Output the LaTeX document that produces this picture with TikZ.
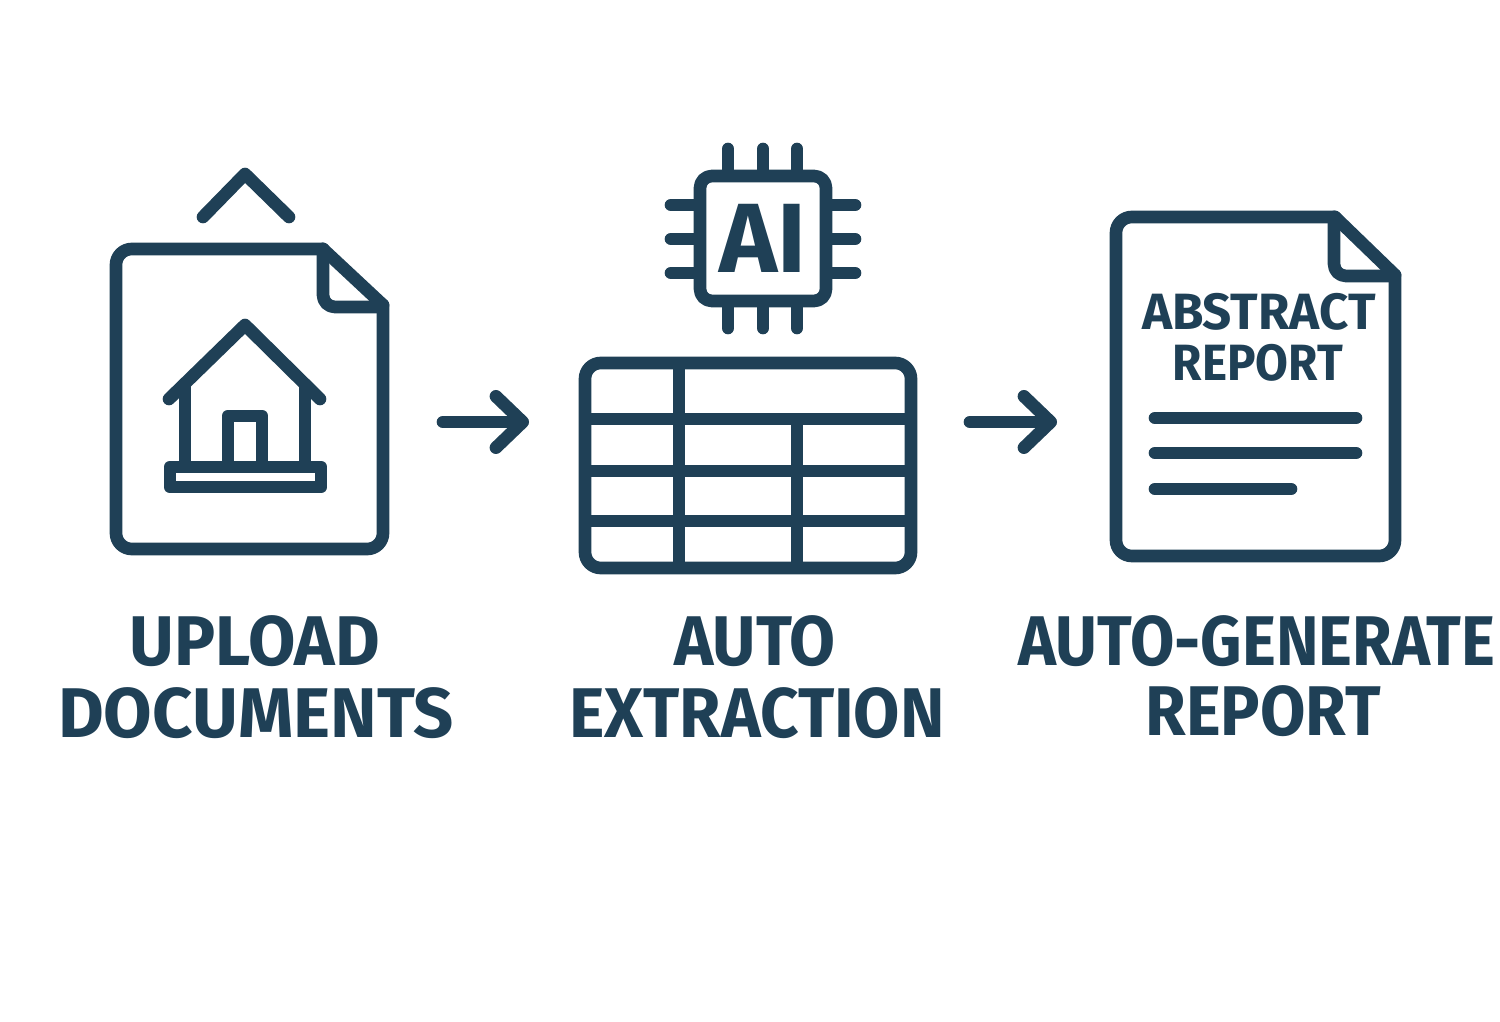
\documentclass[tikz,border=0pt]{standalone}
\usepackage{fontspec}
\setmainfont{Fira Sans}
\usetikzlibrary{arrows.meta}
\definecolor{inkblue}{HTML}{1F4056}
\begin{document}
\begin{tikzpicture}
  [x=0.01cm,y=-0.01cm,
   ink/.style={draw=inkblue,line width=3.6pt,line join=round,line cap=round},
   grid/.style={ink,line cap=butt},
   flow/.style={ink,-{Straight Barb[round,length=7.6pt,width=14.6pt]}},
   every node/.style={text=inkblue,font=\bfseries,inner sep=0pt,transform shape},
   biglabel/.style={font=\fontsize{20}{24}\bfseries\selectfont},
   smalllabel/.style={font=\fontsize{14.5}{17}\bfseries\selectfont}]
  \useasboundingbox (0,0) rectangle (1500,1022);

  \draw[ink] (203,217) -- (245,174) -- (289,217);
  \draw[ink,rounded corners=4.5pt] (383,305) -- (383,549) -- (116,549) -- (116,249) -- (323,249);
  \draw[ink] (323,249) -- (383,305);
  \draw[ink,rounded corners=3.4pt] (323,249) -- (323,307) -- (377,307);

  \draw[ink] (169,399) -- (245,325) -- (320,399);
  \draw[grid] (185,386) -- (185,462);
  \draw[grid] (305,386) -- (305,462);
  \draw[ink] (228,462) -- (228,416) -- (262,416) -- (262,462);
  \draw[ink] (170,467) rectangle (321,487);

  \draw[ink,rounded corners=3.4pt] (700,176) rectangle (826,301);
  \foreach \pinx in {728,763,797} {
    \draw[ink] (\pinx,149) -- (\pinx,170);
    \draw[ink] (\pinx,307) -- (\pinx,328);
  }
  \foreach \piny in {205,239,273} {
    \draw[ink] (671,\piny) -- (694,\piny);
    \draw[ink] (832,\piny) -- (855,\piny);
  }
  \node[font=\fontsize{28}{30}\selectfont\bfseries] (chipai) at (763,238) {AI};

  \draw[ink,rounded corners=4.5pt] (585,363) rectangle (911,568);
  \foreach \rowy in {419,471,521}
    \draw[grid] (585,\rowy) -- (911,\rowy);
  \draw[grid] (679,363) -- (679,568);
  \draw[grid] (797,419) -- (797,568);

  \draw[ink,rounded corners=4.5pt] (1395,275) -- (1395,556) -- (1116,556) -- (1116,217) -- (1335,217);
  \draw[ink] (1335,217) -- (1395,275);
  \draw[ink,rounded corners=3.4pt] (1334,217) -- (1334,276) -- (1389,276);
  \node[smalllabel] (abstractline) at (1259,312) {ABSTRACT};
  \node[smalllabel,xscale=.934] (reportline) at (1258,363) {REPORT};
  \draw[ink] (1155,418) -- (1356,418);
  \draw[ink] (1155,453) -- (1356,453);
  \draw[ink] (1155,489) -- (1291,489);

  \coordinate (a1) at (443,422);
  \coordinate (b1) at (529,422);
  \coordinate (a2) at (970,422);
  \coordinate (b2) at (1057,422);
  \foreach \from/\to in {a1/b1,a2/b2}
    \draw[flow] (\from) -- (\to);

  \node[biglabel,xscale=.976] (upload) at (255,641) {UPLOAD};
  \node[biglabel] (documents) at (256,713) {DOCUMENTS};
  \node[biglabel,xscale=.947] (auto) at (755,641) {AUTO};
  \node[biglabel,xscale=.954] (extraction) at (757,713) {EXTRACTION};
  \node[biglabel,xscale=.914] (autogen) at (1257,641) {AUTO-GENERATE};
  \node[biglabel,xscale=.936] (report) at (1263,711) {REPORT};
\end{tikzpicture}
\end{document}
